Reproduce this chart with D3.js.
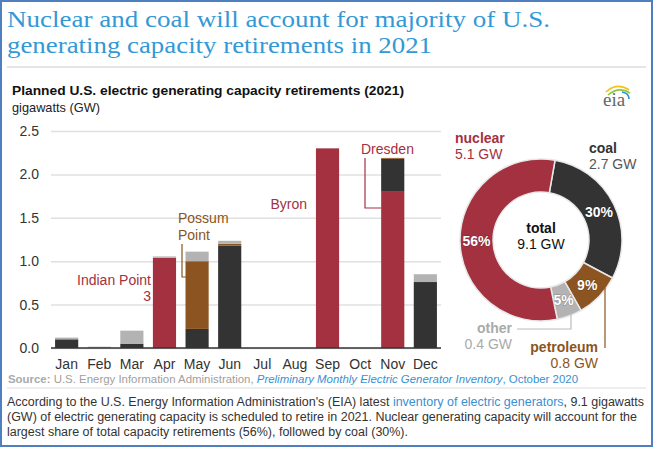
<!DOCTYPE html>
<html><head><meta charset="utf-8">
<script src="https://cdn.jsdelivr.net/npm/d3@7"></script>
<style>body{margin:0;background:#fff}svg{display:block}</style>
</head><body><div id="chart"></div>
<script>
// ---- data ----
const months = ["Jan","Feb","Mar","Apr","May","Jun","Jul","Aug","Sep","Oct","Nov","Dec"];
const nuclear   = [0,0,0,1.04,0,0,0,0,2.3,0,1.8,0];
const coal      = [0.1,0,0.05,0,0.22,1.18,0,0,0,0,0.38,0.76];
const petroleum = [0,0,0,0,0.78,0.02,0,0,0,0,0.01,0];
const other     = [0.02,0.015,0.15,0.015,0.11,0.035,0,0,0,0,0,0.09];
const yTicks = [0,0.5,1,1.5,2,2.5];
const fuelKeys = ["nuclear","coal","petroleum","other"];
const donutKeys = ["coal","petroleum","other","nuclear"];
const donutShare = [30,9,5,56];
const donutGW = [2.7,0.8,0.4,5.1];
const totalGW = 9.1;

const colors = {nuclear:"#a3313f", coal:"#333333", petroleum:"#8b5421", other:"#b3b3b3"};
const SANS = "'Liberation Sans', Arial, sans-serif";

const W = 657, H = 449;
const svg = d3.select("#chart").append("svg").attr("width", W).attr("height", H)
  .style("font-family", SANS);

svg.append("rect").attr("x",1).attr("y",1).attr("width",651).attr("height",445)
  .attr("fill","#fff").attr("stroke","#4f7fbf").attr("stroke-width",2);

// title
const title = svg.append("g").style("font-family","'Liberation Serif', 'Times New Roman', serif")
  .attr("fill","#3399d6").style("font-size","23.5px");
title.append("text").attr("x",7).attr("y",27).attr("textLength",543).attr("lengthAdjust","spacingAndGlyphs")
  .text("Nuclear and coal will account for majority of U.S.");
title.append("text").attr("x",7).attr("y",53).attr("textLength",425).attr("lengthAdjust","spacingAndGlyphs")
  .text("generating capacity retirements in 2021");
svg.append("line").attr("x1",7).attr("x2",646).attr("y1",67).attr("y2",67).attr("stroke","#dddddd").attr("stroke-width",1.5);

svg.append("text").attr("x",12).attr("y",95).attr("font-weight","bold").style("font-size","13.5px")
  .attr("fill","#111").attr("textLength",392).attr("lengthAdjust","spacingAndGlyphs")
  .text("Planned U.S. electric generating capacity retirements (2021)");
svg.append("text").attr("x",12).attr("y",112).style("font-size","13px").attr("fill","#222")
  .attr("textLength",88).attr("lengthAdjust","spacingAndGlyphs").text("gigawatts (GW)");

// eia logo
const logo = svg.append("g");
logo.append("path").attr("d","M606,92 Q617,82 629,90").attr("fill","none").attr("stroke","#f2c40f").attr("stroke-width",1.6);
logo.append("path").attr("d","M608,95 Q619,86 630,93").attr("fill","none").attr("stroke","#8dc63f").attr("stroke-width",1.6);
logo.append("path").attr("d","M622,92 Q629,93 629,99").attr("fill","none").attr("stroke","#2e8fd0").attr("stroke-width",1.6);
logo.append("text").attr("x",603).attr("y",106).style("font-family","'Liberation Serif', serif")
  .style("font-size","19px").attr("fill","#666").text("eia");

// scales
const x0 = 51, x1 = 441;
const y = d3.scaleLinear().domain([0,2.5]).range([348,131]);
const x = d3.scaleBand().domain(months).range([x0,x1]).paddingInner(0.29).paddingOuter(0.125);

// grid + y axis
const yAxis = svg.append("g").attr("transform",`translate(${x0},0)`)
  .call(d3.axisLeft(y).tickValues(yTicks).tickFormat(d3.format(".1f")).tickSize(-(x1-x0)).tickPadding(12));
yAxis.select(".domain").remove();
yAxis.selectAll(".tick line").attr("stroke","#e0e0e0").attr("stroke-width",1.5);
yAxis.selectAll(".tick text").style("font-size","14px").style("font-family",SANS).attr("fill","#333");

// stacked bars
const rows = months.map((m,i)=>({month:m, nuclear:nuclear[i], coal:coal[i], petroleum:petroleum[i], other:other[i]}));
const stack = d3.stack().keys(fuelKeys)(rows);
svg.append("g").selectAll("g").data(stack).join("g").attr("fill",d=>colors[d.key])
  .selectAll("rect").data(d=>d).join("rect")
  .attr("x",d=>x(d.data.month)).attr("width",x.bandwidth())
  .attr("y",d=>y(d[1])).attr("height",d=>Math.max(0,y(d[0])-y(d[1])));

// baseline
svg.append("line").attr("x1",x0).attr("x2",x1).attr("y1",y(0)).attr("y2",y(0)).attr("stroke","#333").attr("stroke-width",1.5);

// x axis
const xAxis = svg.append("g").attr("transform",`translate(0,${y(0)})`)
  .call(d3.axisBottom(x).tickSize(0).tickPadding(11));
xAxis.select(".domain").remove();
xAxis.selectAll(".tick text").style("font-size","14px").style("font-family",SANS).attr("fill","#333");

// bar annotations
const ann = svg.append("g").style("font-size","14px");
ann.append("text").attr("x",151).attr("y",285).attr("text-anchor","end").attr("fill",colors.nuclear).text("Indian Point");
ann.append("text").attr("x",151).attr("y",301).attr("text-anchor","end").attr("fill",colors.nuclear).text("3");
ann.append("text").attr("x",178).attr("y",223).attr("fill",colors.petroleum).text("Possum");
ann.append("text").attr("x",178).attr("y",240).attr("fill",colors.petroleum).text("Point");
ann.append("polyline").attr("points","182,244 182,277 186,277").attr("fill","none").attr("stroke",colors.petroleum).attr("stroke-width",1.2);
ann.append("text").attr("x",307).attr("y",209).attr("text-anchor","end").attr("fill",colors.nuclear).text("Byron");
ann.append("text").attr("x",361).attr("y",154).attr("fill",colors.nuclear).text("Dresden");
ann.append("polyline").attr("points","365,158 365,208 381,208").attr("fill","none").attr("stroke",colors.nuclear).attr("stroke-width",1.2);

// donut
const cx = 541, cy = 240, rOut = 81, rIn = 48;
const a0 = 10*Math.PI/180;
const pie = d3.pie().sort(null).value(d=>d.share).startAngle(a0).endAngle(a0+2*Math.PI);
const slices = pie(donutKeys.map((k,i)=>({key:k, share:donutShare[i], gw:donutGW[i]})));
const arc = d3.arc().innerRadius(rIn).outerRadius(rOut);
const dg = svg.append("g").attr("transform",`translate(${cx},${cy})`);
dg.selectAll("path").data(slices).join("path").attr("d",arc)
  .attr("fill",d=>colors[d.data.key]).attr("stroke","#e8e8e8").attr("stroke-width",1.5);
dg.selectAll("text.pct").data(slices).join("text").attr("class","pct")
  .attr("x",d=>arc.centroid(d)[0]).attr("y",d=>arc.centroid(d)[1]+5)
  .attr("text-anchor","middle").attr("fill","#fff").attr("font-weight","bold").style("font-size","14px")
  .style("paint-order","stroke").attr("stroke","rgba(0,0,0,0.25)").attr("stroke-width",1)
  .text(d=>d.data.share+"%");
dg.append("text").attr("y",-7).attr("text-anchor","middle").attr("font-weight","bold").style("font-size","14px").attr("fill","#111").text("total");
dg.append("text").attr("y",9).attr("text-anchor","middle").style("font-size","14px").attr("fill","#111").text(totalGW+" GW");

// donut labels
const lab = svg.append("g").style("font-size","14px");
function label(xp, yp, anchor, name, gw, nameColor, valColor){
  lab.append("text").attr("x",xp).attr("y",yp).attr("text-anchor",anchor).attr("font-weight","bold").attr("fill",nameColor).text(name);
  lab.append("text").attr("x",xp).attr("y",yp+15.5).attr("text-anchor",anchor).attr("fill",valColor).text(gw+" GW");
}
const gwOf = k => donutGW[donutKeys.indexOf(k)];
label(455,143,"start","nuclear",gwOf("nuclear"),colors.nuclear,colors.nuclear);
label(589,153,"start","coal",gwOf("coal"),"#333","#555");
label(512,333,"end","other",gwOf("other"),"#aaa","#aaa");
label(598,352,"end","petroleum",gwOf("petroleum"),colors.petroleum,colors.petroleum);
lab.append("polyline").attr("points","517,329 571,329 571,313").attr("fill","none").attr("stroke","#bbb").attr("stroke-width",1.2);
lab.append("polyline").attr("points","605,288 605,348").attr("fill","none").attr("stroke",colors.petroleum).attr("stroke-width",1.2);

// source
const src = svg.append("text").attr("x",8).attr("y",383).style("font-size","11px")
  .attr("textLength",570).attr("lengthAdjust","spacingAndGlyphs");
src.append("tspan").attr("font-weight","bold").attr("fill","#aaa").text("Source: ");
src.append("tspan").attr("fill","#a0a0a0").text("U.S. Energy Information Administration, ");
src.append("tspan").attr("fill","#3a8fd0").attr("font-style","italic").text("Preliminary Monthly Electric Generator Inventory");
src.append("tspan").attr("fill","#3a8fd0").text(", October 2020");
svg.append("line").attr("x1",7).attr("x2",646).attr("y1",388).attr("y2",388).attr("stroke","#dddddd").attr("stroke-width",1.2);

// footnote
const fn = svg.append("g").style("font-size","12.5px").attr("fill","#333");
const l1 = fn.append("text").attr("x",7).attr("y",406).attr("textLength",637).attr("lengthAdjust","spacingAndGlyphs");
l1.append("tspan").text("According to the U.S. Energy Information Administration's (EIA) latest ");
l1.append("tspan").attr("fill","#3a8fd0").text("inventory of electric generators");
l1.append("tspan").text(", 9.1 gigawatts");
fn.append("text").attr("x",7).attr("y",421).attr("textLength",630).attr("lengthAdjust","spacingAndGlyphs")
  .text("(GW) of electric generating capacity is scheduled to retire in 2021. Nuclear generating capacity will account for the");
fn.append("text").attr("x",7).attr("y",436).attr("textLength",401).attr("lengthAdjust","spacingAndGlyphs")
  .text("largest share of total capacity retirements (56%), followed by coal (30%).");
</script></body></html>
